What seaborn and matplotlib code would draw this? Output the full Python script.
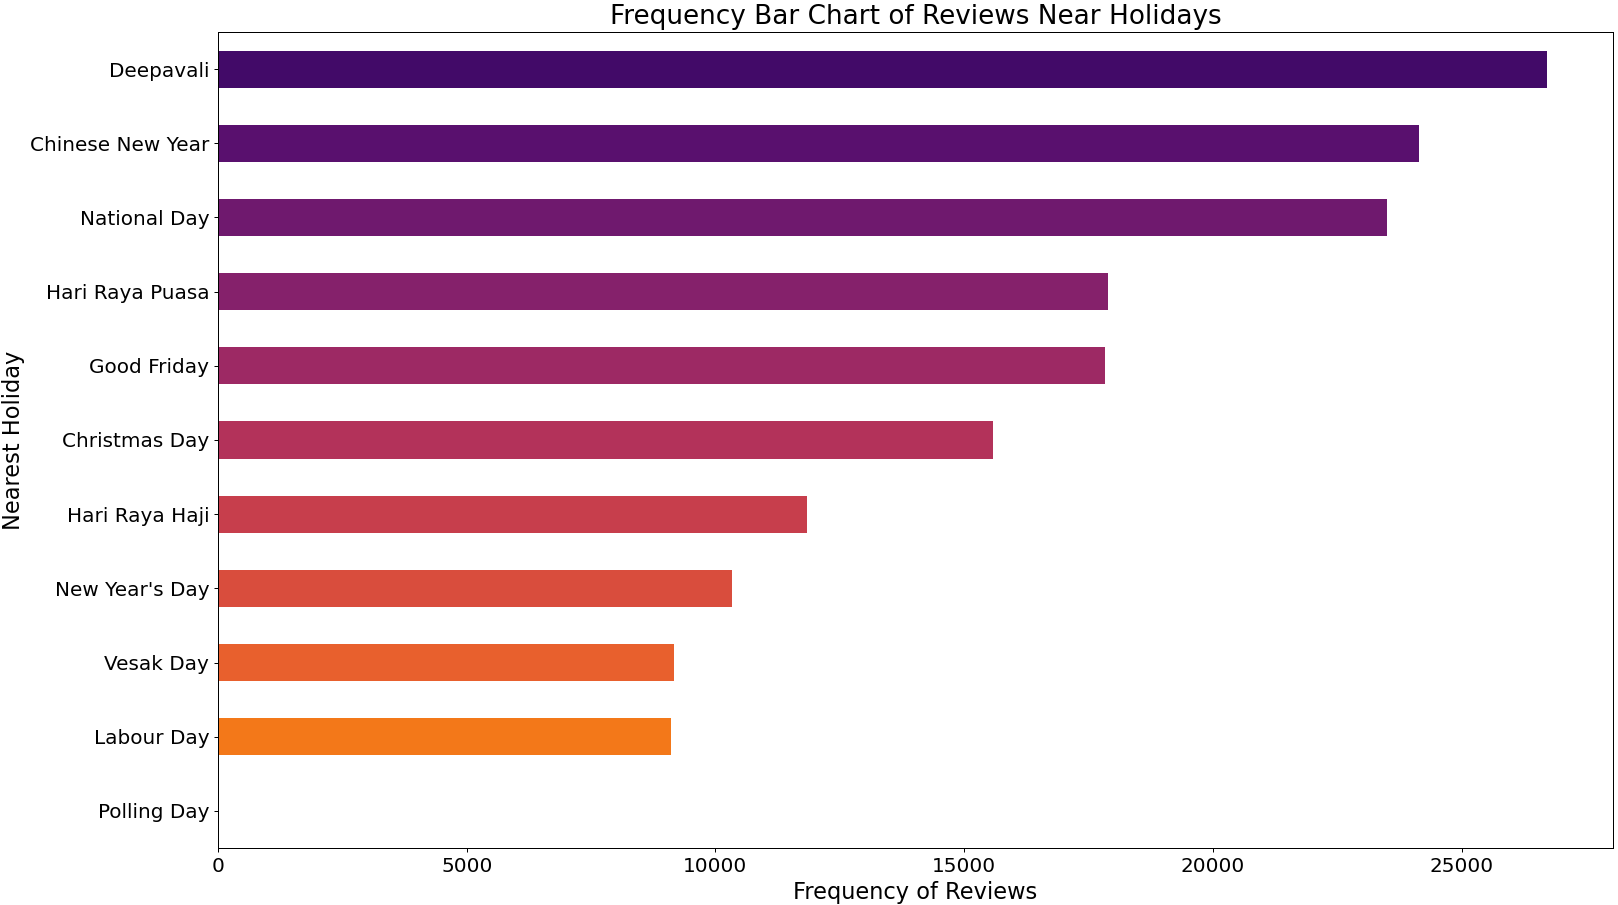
import numpy as np
import matplotlib
matplotlib.use('Agg')
import matplotlib.pyplot as plt
import seaborn as sns

# Datos
festivos = ['Deepavali', 'Chinese New Year', 'National Day', 'Hari Raya Puasa',
            'Good Friday', 'Christmas Day', 'Hari Raya Haji', "New Year's Day",
            'Vesak Day', 'Labour Day', 'Polling Day']
frecuencias = [26710, 24150, 23510, 17900, 17840, 15590, 11850, 10340, 9170, 9110, 20]

# Colores tomados del mapa inferno
colores = [plt.cm.inferno(v) for v in np.linspace(0.2, 0.2 + 10 / 18, len(festivos))]

fig = plt.figure(figsize=(1619 / 90, 905 / 90), dpi=90)
ax = fig.add_axes([218 / 1619, 1 - 848 / 905, (1613 - 218) / 1619, (848 - 32) / 905])

sns.barplot(x=frecuencias, y=festivos, hue=festivos, palette=colores,
            width=0.5, saturation=1, legend=False, orient='h', ax=ax)

ax.set_title('Frequency Bar Chart of Reviews Near Holidays', fontsize=21)
ax.set_xlabel('Frequency of Reviews', fontsize=18)
ax.set_ylabel('Nearest Holiday', fontsize=18)
ax.tick_params(axis='both', labelsize=16)

plt.savefig('out.png', dpi=90)
